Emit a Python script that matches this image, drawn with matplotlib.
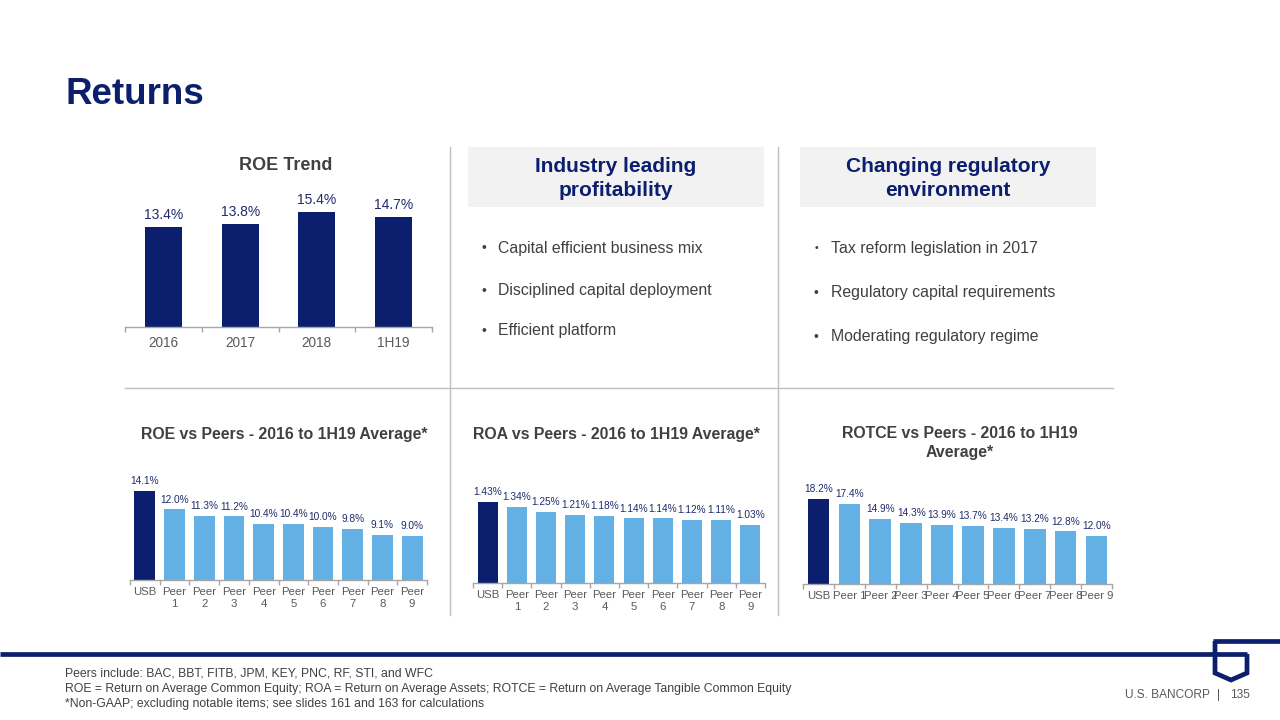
import matplotlib
matplotlib.use('Agg')
import matplotlib.pyplot as plt
import numpy as np
from matplotlib.patches import Rectangle
from matplotlib.lines import Line2D

W, H = 1280, 720
plt.rcParams['font.family'] = ['Liberation Sans', 'DejaVu Sans']

NAVY = '#0B1F6E'
LIGHT = '#63B0E4'
LABEL = '#1F2B6C'
GREY_T = '#595959'
DARK_T = '#404040'
RULE = '#BFBFBF'
AXIS = '#A6A6A6'

# ---------------- data ----------------
trend_cats = ['2016', '2017', '2018', '1H19']
trend_vals = [13.4, 13.8, 15.4, 14.7]

peer_cats_2line = ['USB', 'Peer\n1', 'Peer\n2', 'Peer\n3', 'Peer\n4', 'Peer\n5',
                   'Peer\n6', 'Peer\n7', 'Peer\n8', 'Peer\n9']
peer_cats_1line = ['USB', 'Peer 1', 'Peer 2', 'Peer 3', 'Peer 4', 'Peer 5',
                   'Peer 6', 'Peer 7', 'Peer 8', 'Peer 9']
roe_vals = [14.1, 12.0, 11.3, 11.2, 10.4, 10.4, 10.0, 9.8, 9.1, 9.0]
roa_vals = [1.43, 1.34, 1.25, 1.21, 1.18, 1.14, 1.14, 1.12, 1.11, 1.03]
rotce_vals = [18.2, 17.4, 14.9, 14.3, 13.9, 13.7, 13.4, 13.2, 12.8, 12.0]

left_bullets = ['Capital efficient business mix', 'Disciplined capital deployment',
                'Efficient platform']
right_bullets = ['Tax reform legislation in 2017', 'Regulatory capital requirements',
                 'Moderating regulatory regime']

footnotes = ['Peers include: BAC, BBT, FITB, JPM, KEY, PNC, RF, STI, and WFC',
             'ROE = Return on Average Common Equity; ROA = Return on Average Assets; '
             'ROTCE = Return on Average Tangible Common Equity',
             '*Non-GAAP; excluding notable items; see slides 161 and 163 for calculations']

# ---------------- figure ----------------
fig = plt.figure(figsize=(12.8, 7.2), dpi=100)


def fx(x):
    return x / W


def fy(y):
    return 1 - y / H


def add_ax(l, t, r, b):
    return fig.add_axes([l / W, 1 - b / H, (r - l) / W, (b - t) / H])


def text(x, y, s, **kw):
    fig.text(fx(x), fy(y), s, **kw)


def line(xs, ys, **kw):
    fig.add_artist(Line2D([fx(v) for v in xs], [fy(v) for v in ys], **kw))


def bar_chart(ax, cats, vals, ylim, width, fmt, vsize, tsize, pad, dark_first=True,
              linespacing=1.0):
    n = len(cats)
    x = np.arange(n)
    colors = [NAVY] + [LIGHT] * (n - 1) if dark_first else [NAVY] * n
    ax.bar(x, vals, width=width, color=colors, zorder=2)
    ax.set_xlim(-0.5, n - 0.5)
    ax.set_ylim(*ylim)
    for s in ['top', 'right', 'left']:
        ax.spines[s].set_visible(False)
    ax.spines['bottom'].set_color(AXIS)
    ax.spines['bottom'].set_linewidth(1.0)
    ax.set_yticks([])
    ax.set_xticks(x)
    ax.set_xticklabels(cats, fontsize=tsize, color=GREY_T, linespacing=linespacing)
    ax.tick_params(axis='x', which='major', length=0, pad=pad)
    ax.set_xticks(np.arange(n + 1) - 0.5, minor=True)
    ax.tick_params(axis='x', which='minor', length=3.5, color=AXIS, width=1.0,
                   direction='out')
    for xi, v in zip(x, vals):
        ax.annotate(fmt.format(v), (xi, v), xytext=(0, 3.5), textcoords='offset points',
                    ha='center', va='bottom', fontsize=vsize, color=LABEL)
    ax.patch.set_alpha(0)


# Title
text(65, 95, 'Returns', fontsize=26.5, fontweight='bold', color=NAVY, va='center', ha='left')

# ROE Trend
text(286, 166, 'ROE Trend', fontsize=13, fontweight='bold', color=DARK_T,
     ha='center', va='center')
ax1 = add_ax(125, 192, 432, 327)
bar_chart(ax1, trend_cats, trend_vals, (0, 18), 0.48, '{:.1f}%', 10, 9.8, 6.5,
          dark_first=False)

# Dividers
line([450, 450], [147, 615], color=RULE, lw=1.0)
line([778, 778], [147, 615], color=RULE, lw=1.0)
line([125, 1113], [388, 388], color=RULE, lw=1.0)

# Header boxes
for (l, r, t1, t2) in [(468, 764, 'Industry leading', 'profitability'),
                       (800, 1096, 'Changing regulatory', 'environment')]:
    fig.add_artist(Rectangle((fx(l), fy(207)), (r - l) / W, 60 / H,
                             facecolor='#F2F2F2', edgecolor='none'))
    cx = (l + r) / 2
    text(cx, 166, t1, fontsize=15, fontweight='bold', color=NAVY, ha='center', va='center')
    text(cx, 190, t2, fontsize=15, fontweight='bold', color=NAVY, ha='center', va='center')

# Bullets
for s, y in zip(left_bullets, [248, 291, 331]):
    text(484, y, '•', fontsize=10, color=DARK_T, ha='center', va='center')
    text(498, y, s, fontsize=11.4, color=DARK_T, ha='left', va='center')
for i, (s, y) in enumerate(zip(right_bullets, [248, 293, 337])):
    text(816, y, '•', fontsize=7.5 if i == 0 else 10, color=DARK_T, ha='center', va='center')
    text(831, y, s, fontsize=11.4, color=DARK_T, ha='left', va='center')

# Bottom charts
text(284, 435, 'ROE vs Peers - 2016 to 1H19 Average*', fontsize=11.4, fontweight='bold',
     color=DARK_T, ha='center', va='center')
ax2 = add_ax(130, 470, 427, 580)
bar_chart(ax2, peer_cats_2line, roe_vals, (4, 4 + 110 / 8.82), 0.7, '{:.1f}%', 7.3, 8.2, 5,
          linespacing=1.2)

text(616, 434, 'ROA vs Peers - 2016 to 1H19 Average*', fontsize=11.4, fontweight='bold',
     color=DARK_T, ha='center', va='center')
ax3 = add_ax(473, 470, 765, 583)
bar_chart(ax3, peer_cats_2line, roa_vals, (0, 113 / 56.6), 0.68, '{:.2f}%', 7.3, 8.2, 5,
          linespacing=1.2)

text(960, 433, 'ROTCE vs Peers - 2016 to 1H19', fontsize=11.4, fontweight='bold',
     color=DARK_T, ha='center', va='center')
text(960, 452, 'Average*', fontsize=11.4, fontweight='bold',
     color=DARK_T, ha='center', va='center')
ax4 = add_ax(803, 470, 1112, 584)
bar_chart(ax4, peer_cats_1line, rotce_vals, (4, 4 + 114 / 5.97), 0.7, '{:.1f}%', 7.3, 8.2, 5)

# Footer rule and logo
lw = 3.4
line([0, 1247], [654, 654], color=NAVY, lw=lw, solid_capstyle='butt')
line([1213, 1280], [641, 641], color=NAVY, lw=lw, solid_capstyle='butt')
line([1215, 1215, 1231, 1247, 1247], [641, 673, 680, 673, 654], color=NAVY, lw=lw,
     solid_joinstyle='miter', solid_capstyle='butt')

for s, y in zip(footnotes, [674, 689, 704]):
    text(65, y, s, fontsize=8.8, color=DARK_T, ha='left', va='center')

text(1210, 695, 'U.S. BANCORP', fontsize=8.6, color=GREY_T, ha='right', va='center')
text(1218, 695, '|', fontsize=8.6, color=GREY_T, ha='center', va='center')
text(1250, 695, '135', fontsize=8.6, color=GREY_T, ha='right', va='center')

fig.savefig('out.png', dpi=100)
